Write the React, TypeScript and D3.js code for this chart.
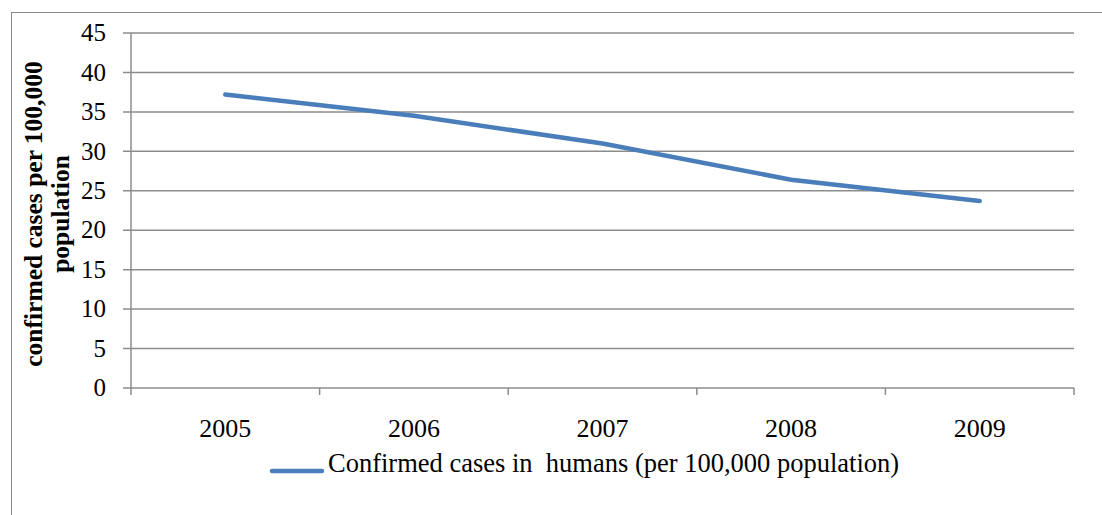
import * as d3 from "d3"
import { useEffect, useRef } from "react"

const years = ["2005", "2006", "2007", "2008", "2009"]
const cases = [37.2, 34.5, 31.0, 26.4, 23.7]
const yTicks = [0, 5, 10, 15, 20, 25, 30, 35, 40, 45]
const seriesName = "Confirmed cases in  humans (per 100,000 population)"
const yTitle = ["confirmed cases per 100,000", "population"]

const W = 1102
const H = 515
const FONT = "'Liberation Serif', 'Times New Roman', serif"

const App = () => {
  const svgRef = useRef<SVGSVGElement>(null)

  useEffect(() => {
    if (!svgRef.current) return
    d3.select(svgRef.current).selectAll("*").remove()

    const MARGIN = { top: 33, right: 28, bottom: 127, left: 131 }
    const svg = d3.select(svgRef.current).attr("width", W).attr("height", H)

    // outer chart frame (only left/top visible in the crop)
    svg
      .append("rect")
      .attr("x", 11.5)
      .attr("y", 12.5)
      .attr("width", W + 20)
      .attr("height", H + 20)
      .attr("fill", "none")
      .attr("stroke", "#888")
      .attr("stroke-width", 1)

    const xScale = d3
      .scaleBand()
      .domain(years)
      .range([MARGIN.left, W - MARGIN.right])
    const yScale = d3
      .scaleLinear()
      .domain([0, 45])
      .range([H - MARGIN.bottom, MARGIN.top])

    // gridlines
    svg
      .selectAll("line.grid")
      .data(yTicks)
      .join("line")
      .attr("class", "grid")
      .attr("x1", MARGIN.left - 8)
      .attr("x2", W - MARGIN.right)
      .attr("y1", (d) => yScale(d))
      .attr("y2", (d) => yScale(d))
      .attr("stroke", "#8c8c8c")
      .attr("stroke-width", 1.5)

    // y axis line
    svg
      .append("line")
      .attr("x1", MARGIN.left)
      .attr("x2", MARGIN.left)
      .attr("y1", yScale(45))
      .attr("y2", yScale(0) + 7)
      .attr("stroke", "#8c8c8c")
      .attr("stroke-width", 1.5)

    // x ticks at band edges
    const edges = years.map((y) => xScale(y) as number).concat([W - MARGIN.right])
    svg
      .selectAll("line.xtick")
      .data(edges.slice(1))
      .join("line")
      .attr("class", "xtick")
      .attr("x1", (d) => d)
      .attr("x2", (d) => d)
      .attr("y1", yScale(0))
      .attr("y2", yScale(0) + 7)
      .attr("stroke", "#8c8c8c")
      .attr("stroke-width", 1.5)

    // y tick labels
    svg
      .selectAll("text.ylab")
      .data(yTicks)
      .join("text")
      .attr("class", "ylab")
      .attr("x", MARGIN.left - 25)
      .attr("y", (d) => yScale(d))
      .attr("dy", "0.33em")
      .attr("text-anchor", "end")
      .attr("font-family", FONT)
      .attr("font-size", "25px")
      .attr("fill", "#000")
      .text((d) => d)

    // x tick labels
    svg
      .selectAll("text.xlab")
      .data(years)
      .join("text")
      .attr("class", "xlab")
      .attr("x", (d) => (xScale(d) as number) + xScale.bandwidth() / 2)
      .attr("y", yScale(0) + 49)
      .attr("text-anchor", "middle")
      .attr("font-family", FONT)
      .attr("font-size", "26px")
      .attr("fill", "#000")
      .text((d) => d)

    // y axis title
    const yt = svg
      .append("text")
      .attr("transform", `translate(42, 214) rotate(-90)`)
      .attr("text-anchor", "middle")
      .attr("font-family", FONT)
      .attr("font-size", "25.5px")
      .attr("font-weight", "bold")
      .attr("fill", "#000")
    yt.selectAll("tspan")
      .data(yTitle)
      .join("tspan")
      .attr("x", 0)
      .attr("dy", (_, i) => (i === 0 ? 0 : 27))
      .text((d) => d)

    // series line
    const line = d3
      .line<number>()
      .x((_, i) => (xScale(years[i]) as number) + xScale.bandwidth() / 2)
      .y((d) => yScale(d))
    svg
      .append("path")
      .datum(cases)
      .attr("fill", "none")
      .attr("stroke", "#4a7ebb")
      .attr("stroke-width", 4.5)
      .attr("stroke-linecap", "round")
      .attr("stroke-linejoin", "round")
      .attr("d", line)

    // legend
    const ly = 471
    svg
      .append("line")
      .attr("x1", 272)
      .attr("x2", 322)
      .attr("y1", ly)
      .attr("y2", ly)
      .attr("stroke", "#4a7ebb")
      .attr("stroke-width", 4.5)
      .attr("stroke-linecap", "round")
    svg
      .append("text")
      .attr("x", 328)
      .attr("y", ly + 1)
      .attr("font-family", FONT)
      .attr("font-size", "26.5px")
      .attr("fill", "#000")
      .attr("xml:space", "preserve")
      .style("white-space", "pre")
      .text(seriesName)
  }, [])

  return (
    <div style={{ position: "absolute", left: 0, top: 0, width: W, height: H, background: "#fff" }}>
      <svg ref={svgRef} style={{ display: "block" }} />
    </div>
  )
}

export default App
